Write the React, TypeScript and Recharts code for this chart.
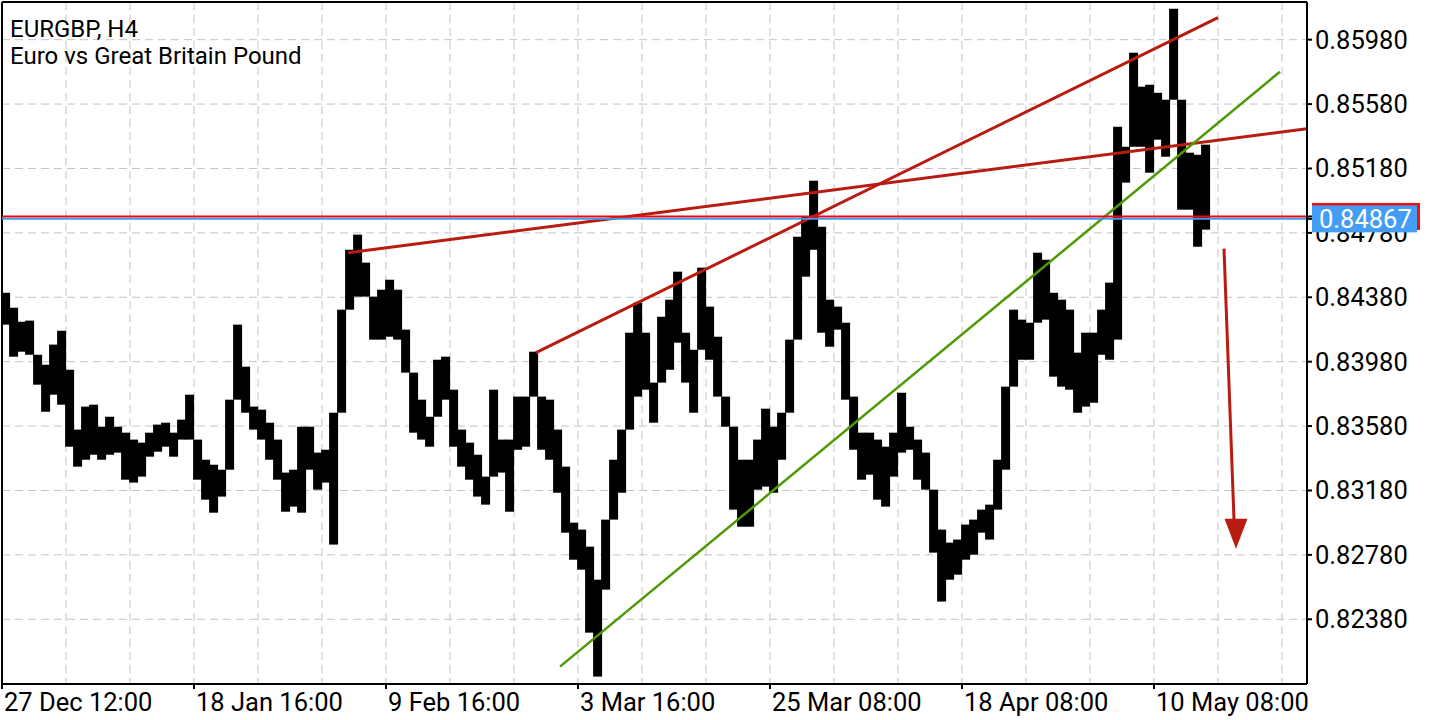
import React from 'react';
import {
  ComposedChart,
  Bar,
  XAxis,
  YAxis,
  CartesianGrid,
  ReferenceLine,
  ReferenceDot,
} from 'recharts';

// EURGBP H4. One column = 4 H4 bars (high / low of the group)
const highs = [
  0.84408, 0.84315, 0.84228, 0.84235, 0.84023, 0.83961, 0.84086, 0.84172, 0.83930, 0.83558,
  0.83701, 0.83713, 0.83576, 0.83638, 0.83576, 0.83539, 0.83496, 0.83477, 0.83539, 0.83589,
  0.83601, 0.83539, 0.83620, 0.83775, 0.83496, 0.83371, 0.83340, 0.83309, 0.83744, 0.84210,
  0.83949, 0.83701, 0.83682, 0.83601, 0.83496, 0.83291, 0.83309, 0.83576, 0.83576, 0.83415,
  0.83433, 0.83663, 0.84303, 0.84675, 0.84769, 0.84595, 0.84384, 0.84427, 0.84489, 0.84427,
  0.84179, 0.83912, 0.83744, 0.83638, 0.83992, 0.84011, 0.83806, 0.83558, 0.83477, 0.83402,
  0.83266, 0.83806, 0.83496, 0.83496, 0.83763, 0.83763, 0.84042, 0.83763, 0.83744, 0.83558,
  0.83328, 0.82980, 0.82937, 0.82831, 0.82626, 0.82999, 0.83371, 0.83558, 0.84160, 0.84346,
  0.84160, 0.83850, 0.84259, 0.84365, 0.84539, 0.84160, 0.84054, 0.84564, 0.84322, 0.84135,
  0.83763, 0.83576, 0.83371, 0.83371, 0.83496, 0.83688, 0.83576, 0.83663, 0.84117, 0.84756,
  0.84880, 0.85104, 0.84818, 0.84365, 0.84322, 0.84222, 0.83763, 0.83539, 0.83539, 0.83496,
  0.83452, 0.83539, 0.83787, 0.83576, 0.83496, 0.83415, 0.83185, 0.82937, 0.82856, 0.82875,
  0.82968, 0.82999, 0.83061, 0.83092, 0.83371, 0.83825, 0.84303, 0.84241, 0.84222, 0.84657,
  0.84613, 0.84408, 0.84365, 0.84303, 0.84036, 0.84160, 0.84160, 0.84303, 0.84471, 0.85439,
  0.85315, 0.85899, 0.85688, 0.85700, 0.85650, 0.85607, 0.86172, 0.85607, 0.85278, 0.85265,
  0.85328,
];

const lows = [
  0.84210, 0.84011, 0.84042, 0.84023, 0.83837, 0.83669, 0.83775, 0.83713, 0.83452, 0.83328,
  0.83371, 0.83402, 0.83371, 0.83402, 0.83415, 0.83247, 0.83229, 0.83266, 0.83390, 0.83421,
  0.83452, 0.83390, 0.83496, 0.83496, 0.83247, 0.83123, 0.83042, 0.83142, 0.83309, 0.83744,
  0.83663, 0.83558, 0.83496, 0.83371, 0.83247, 0.83048, 0.83080, 0.83042, 0.83309, 0.83185,
  0.83229, 0.82844, 0.83663, 0.84303, 0.84384, 0.84384, 0.84117, 0.84117, 0.84135, 0.84117,
  0.83912, 0.83539, 0.83496, 0.83452, 0.83638, 0.83744, 0.83452, 0.83328, 0.83247, 0.83142,
  0.83092, 0.83266, 0.83291, 0.83048, 0.83433, 0.83452, 0.83763, 0.83433, 0.83371, 0.83166,
  0.82918, 0.82750, 0.82688, 0.82297, 0.82024, 0.82564, 0.82999, 0.83166, 0.83558, 0.83763,
  0.83806, 0.83601, 0.83850, 0.83930, 0.84098, 0.83850, 0.83663, 0.84054, 0.83992, 0.83763,
  0.83576, 0.83061, 0.82955, 0.82955, 0.83185, 0.83204, 0.83166, 0.83371, 0.83663, 0.84117,
  0.84508, 0.84675, 0.84160, 0.84073, 0.84179, 0.83744, 0.83433, 0.83247, 0.83278, 0.83123,
  0.83080, 0.83266, 0.83415, 0.83433, 0.83247, 0.83185, 0.82794, 0.82490, 0.82626, 0.82657,
  0.82750, 0.82781, 0.82918, 0.82875, 0.83061, 0.83309, 0.83825, 0.83992, 0.83992, 0.84222,
  0.84241, 0.83887, 0.83825, 0.83806, 0.83663, 0.83701, 0.83725, 0.84023, 0.83992, 0.84117,
  0.85092, 0.85315, 0.85315, 0.85154, 0.85359, 0.85253, 0.85607, 0.84924, 0.84924, 0.84694,
  0.84800,
];

const BARS_PER_COLUMN = 4;

// time axis, in H4 bar numbers from the left edge
const gridBars = [0, 32, 64, 96, 128, 160, 192, 224, 256, 288, 320, 352, 384, 416, 448, 480, 512, 544, 576, 608, 640];
const labelBars = [0, 96, 192, 288, 384, 480, 576];
const timeLabels = ['27 Dec 12:00', '18 Jan 16:00', '9 Feb 16:00', '3 Mar 16:00', '25 Mar 08:00', '18 Apr 08:00', '10 May 08:00'];

const priceTicks = [0.8238, 0.8278, 0.8318, 0.8358, 0.8398, 0.8438, 0.8478, 0.8518, 0.8558, 0.8598];
const priceMin = 0.81978;
const priceMax = 0.86214;
const barsVisible = 652.5;

const bid = 0.84867;
const ask = 0.84882;

// hand drawn objects (bar number, price)
const resistanceLine = [{ x: 173, y: 0.84657 }, { x: 652.5, y: 0.85427 }];
const channelTop = [{ x: 267, y: 0.84036 }, { x: 608, y: 0.86117 }];
const supportLine = [{ x: 279, y: 0.82086 }, { x: 639, y: 0.85781 }];
const arrowShaft = [{ x: 611, y: 0.84682 }, { x: 616, y: 0.82999 }];
const arrowHead = { x: 617, y: 0.82912 };

const data = highs.map((h, i) => ({
  bar: i * BARS_PER_COLUMN + BARS_PER_COLUMN / 2,
  range: [lows[i], h],
}));

const FONT = 'Roboto, sans-serif';
const AXIS_FONT = 25.5;
const TREND_RED = '#b81c10';

const TimeTick = ({ x, y, payload }: any) => {
  const idx = labelBars.indexOf(payload.value);
  if (idx < 0) return null;
  return (
    <g>
      <line x1={x} y1={y} x2={x} y2={y + 5} stroke="#000" strokeWidth={2} />
      <text x={x + 2} y={y + 27} fontSize={AXIS_FONT} fontFamily={FONT} fill="#000">
        {timeLabels[idx]}
      </text>
    </g>
  );
};

// price scale labels; bid / ask tags are drawn last so they sit on top of the scale
const PriceTick = ({ x, y, payload }: any) => {
  const v = payload.value;
  if (v === ask || v === bid) {
    const isBid = v === bid;
    const w = isBid ? 105 : 108;
    return (
      <g>
        <rect x={x - 3} y={y - 13.5} width={w} height={27} fill={isBid ? '#449df5' : '#f01010'} />
        <text x={x + 4} y={y + 9} fontSize={AXIS_FONT} fontFamily={FONT} fill="#fff">
          {v.toFixed(5)}
        </text>
      </g>
    );
  }
  return (
    <text x={x} y={y + 9} fontSize={AXIS_FONT} fontFamily={FONT} fill="#000">
      {v.toFixed(5)}
    </text>
  );
};

const Column = ({ x, y, width, height }: any) => {
  if (height == null || isNaN(y)) return null;
  return <rect x={x + width / 2 - 4.5} y={y} width={9} height={Math.max(height, 1)} fill="#000" />;
};

const ArrowHead = ({ cx, cy }: any) => (
  <polygon
    points={`${cx - 11.5},${cy - 15} ${cx + 11.5},${cy - 15} ${cx},${cy + 15}`}
    fill={TREND_RED}
  />
);

export default function App() {
  return (
    <div style={{ position: 'fixed', left: 0, top: 0, width: 1440, height: 720, background: '#fff' }}>
      <ComposedChart
        width={1440}
        height={720}
        data={data}
        margin={{ top: 2, right: 0, bottom: 0, left: 2 }}
        barGap={0}
        barCategoryGap={0}
      >
        <CartesianGrid stroke="#c4c4c4" strokeDasharray="8 5" horizontalValues={priceTicks} />
        <XAxis
          dataKey="bar"
          type="number"
          domain={[0, barsVisible]}
          ticks={gridBars}
          allowDataOverflow
          height={36}
          axisLine={{ stroke: '#000', strokeWidth: 2 }}
          tickLine={false}
          tickSize={0}
          tickMargin={0}
          tick={<TimeTick />}
          interval={0}
        />
        <YAxis
          orientation="right"
          type="number"
          domain={[priceMin, priceMax]}
          ticks={[...priceTicks, ask, bid]}
          allowDataOverflow
          width={133}
          axisLine={{ stroke: '#000', strokeWidth: 2 }}
          tickLine={{ stroke: '#000', strokeWidth: 2 }}
          tickSize={5}
          tickMargin={3}
          tick={<PriceTick />}
          interval={0}
        />
        <ReferenceLine y={priceMax} stroke="#000" strokeWidth={2} />
        <ReferenceLine x={0} stroke="#000" strokeWidth={2} />

        <Bar dataKey="range" fill="#000" barSize={8} shape={<Column />} isAnimationActive={false} />

        <ReferenceLine segment={resistanceLine} stroke={TREND_RED} strokeWidth={3} ifOverflow="hidden" />
        <ReferenceLine segment={channelTop} stroke={TREND_RED} strokeWidth={3} ifOverflow="hidden" />
        <ReferenceLine segment={supportLine} stroke="#4e9a06" strokeWidth={2.5} ifOverflow="hidden" />
        <ReferenceLine segment={arrowShaft} stroke={TREND_RED} strokeWidth={3} ifOverflow="hidden" />
        <ReferenceDot x={arrowHead.x} y={arrowHead.y} r={15} shape={<ArrowHead />} ifOverflow="hidden" />

        <ReferenceLine y={ask} stroke="#ff0000" strokeWidth={2} />
        <ReferenceLine y={bid} stroke="#3d9cf5" strokeWidth={2} />
      </ComposedChart>
      <svg
        width={420}
        height={80}
        style={{ position: 'absolute', left: 0, top: 0, pointerEvents: 'none' }}
      >
        <text x={10} y={37} fontSize={24} fontFamily={FONT} fill="#000">
          EURGBP, H4
        </text>
        <text x={10} y={64} fontSize={24} fontFamily={FONT} fill="#000">
          Euro vs Great Britain Pound
        </text>
      </svg>
    </div>
  );
}
